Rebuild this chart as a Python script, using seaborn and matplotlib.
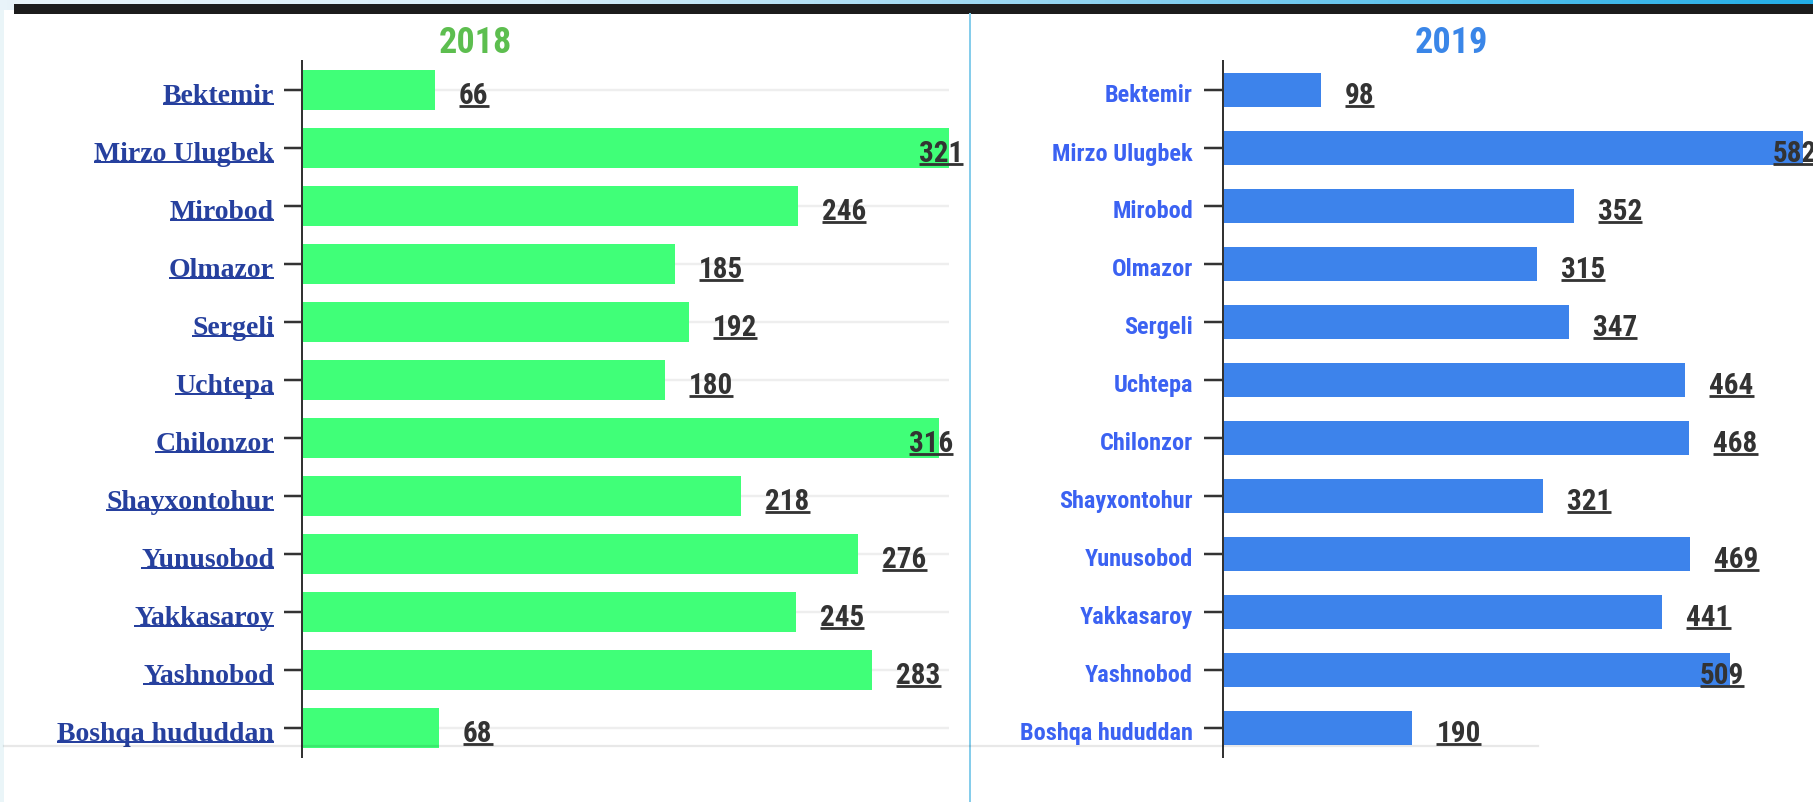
import sys # system functions

import numpy as np # arrays
import pandas as pd # data frames
import matplotlib # base library
matplotlib.use("Agg")
import matplotlib.pyplot as plt # pyplot
from matplotlib import font_manager as fm # font lookup
from matplotlib.lines import Line2D # underline strokes
from matplotlib.colors import LinearSegmentedColormap # top strip gradient
from matplotlib.transforms import ScaledTranslation # small label nudges
import seaborn as sns # seaborn

# Chart data
districts = ["Bektemir", "Mirzo Ulugbek", "Mirobod", "Olmazor", "Sergeli", "Uchtepa",
             "Chilonzor", "Shayxontohur", "Yunusobod", "Yakkasaroy", "Yashnobod",
             "Boshqa hududdan"]
values_2018 = [66, 321, 246, 185, 192, 180, 316, 218, 276, 245, 283, 68]
values_2019 = [98, 582, 352, 315, 347, 464, 468, 321, 469, 441, 509, 190]
titles = ["2018", "2019"]

W, H = 1813, 803 # figure size in pixels
PT = 0.72 # points per pixel at dpi 100


# Picks a condensed bold family if one is installed
def condensed_font():
    fonts = fm.fontManager.ttflist
    names = {f.name for f in fonts}
    if "Roboto Condensed" in names:
        return {"family": "Roboto Condensed"}
    for f in fonts:
        if f.name == "Roboto" and f.stretch in ("condensed", "semi-condensed", 75, 87):
            return {"family": "Roboto", "stretch": "condensed"}
    if "Liberation Sans Narrow" in names:
        return {"family": "Liberation Sans Narrow"}
    return {"family": "Roboto"}


# Puts an axes at pixel position (top-left origin)
def px_axes(fig, x0, y0, x1, y1, **kw):
    return fig.add_axes([x0 / W, 1 - y1 / H, (x1 - x0) / W, (y1 - y0) / H], **kw)


# Draws a line under a text object
def underline(fig, renderer, t, color, lw, drop):
    bb = t.get_window_extent(renderer)
    y = bb.y0 + drop
    inv = fig.transFigure.inverted()
    (x0, yy), (x1, _) = inv.transform([(bb.x0, y), (bb.x1, y)])
    fig.add_artist(Line2D([x0, x1], [yy, yy], color=color, lw=lw,
                          solid_capstyle="butt", zorder=20))


def draw_panel(fig, ax, values, bar_color, bar_width, grid):
    df = pd.DataFrame({"district": districts, "value": values})
    sns.barplot(data=df, x="value", y="district", orient="h", color=bar_color,
                saturation=1, width=bar_width, linewidth=0, ax=ax)
    ax.set_xlim(0, max(values))
    ax.set_ylim(len(districts) - 0.5, -0.5)
    ax.set_xlabel("")
    ax.set_ylabel("")
    ax.set_xticks([])
    for s in ["top", "right", "bottom"]:
        ax.spines[s].set_visible(False)
    ax.spines["left"].set_color("#333333")
    ax.spines["left"].set_linewidth(2 * PT)
    ax.spines["left"].set_zorder(5)
    if grid:
        ax.grid(axis="y", color="#EEEEEE", lw=2.4 * PT)
        ax.set_axisbelow(True)
    else:
        ax.grid(False)
    ax.set_facecolor("none")
    return ax


# Moves tick labels a few pixels down
def nudge_ticklabels(fig, ax, dy_px):
    shift = ScaledTranslation(0, -dy_px / 100, fig.dpi_scale_trans)
    for tick in ax.yaxis.get_major_ticks():
        tick.label1.set_transform(tick.label1.get_transform() + shift)


def __main__():
    cond = condensed_font()

    fig = plt.figure(figsize=(W / 100, H / 100), dpi=100)
    fig.patch.set_facecolor("white")

    # page decoration: gradient strip, dark bar, margin
    strip = px_axes(fig, 0, 0, W, 11)
    cmap = LinearSegmentedColormap.from_list(
        "strip", [(0, "#E8F3F9"), (0.3, "#D6EDF8"), (0.6, "#90D3F0"), (1, "#22ADE6")])
    strip.imshow(np.linspace(0, 1, 256)[None, :], aspect="auto", cmap=cmap)
    strip.axis("off")
    margin = px_axes(fig, 0, 11, 4, H)
    margin.set_facecolor("#EAF5F8")
    margin.set_xticks([])
    margin.set_yticks([])
    for s in margin.spines.values():
        s.set_visible(False)
    fig.add_artist(plt.Rectangle((14 / W, 1 - 15 / H), 1, 10 / H, transform=fig.transFigure,
                                 color="#1C1C1C", lw=0, zorder=3))
    fig.add_artist(Line2D([970 / W, 970 / W], [0, 1 - 15 / H], transform=fig.transFigure,
                          color="#86CDEB", lw=2 * PT, zorder=3))

    # left panel (2018)
    ax1 = px_axes(fig, 302, 62, 949, 758)
    draw_panel(fig, ax1, values_2018, "#40FF78", 0.7, True)
    ax1.tick_params(axis="y", length=18 * PT, width=2.5 * PT, color="#333333", pad=10 * PT)
    for lbl in ax1.get_yticklabels():
        lbl.set_fontfamily("Liberation Serif")
        lbl.set_fontweight("bold")
        lbl.set_fontsize(20)
        lbl.set_color("#26409E")

    # right panel (2019)
    ax2 = px_axes(fig, 1223, 62, 1803, 758)
    draw_panel(fig, ax2, values_2019, "#3D83EB", 0.57, False)
    ax2.tick_params(axis="y", length=19 * PT, width=2.5 * PT, color="#333333", pad=11 * PT)
    for lbl in ax2.get_yticklabels():
        lbl.set_fontproperties(fm.FontProperties(weight="bold", size=17.5, **cond))
        lbl.set_color("#3B62F2")

    # titles
    fig.text(475 / W, 1 - 53 / H, titles[0], ha="center", va="baseline", color="#5DBE4F",
             fontproperties=fm.FontProperties(weight="bold", size=26, **cond))
    fig.text(1451 / W, 1 - 53 / H, titles[1], ha="center", va="baseline", color="#3A86E8",
             fontproperties=fm.FontProperties(weight="bold", size=26, **cond))

    # value labels
    value_texts = []
    for ax, vals in [(ax1, values_2018), (ax2, values_2019)]:
        for i, v in enumerate(vals):
            t = ax.annotate(str(v), xy=(v, i), xytext=(24 * PT, -5 * PT),
                            textcoords="offset points", ha="left", va="center",
                            color="#333333", annotation_clip=False, zorder=10,
                            fontproperties=fm.FontProperties(weight="bold", size=21, **cond))
            value_texts.append((ax, t))

    fig.canvas.draw()
    renderer = fig.canvas.get_renderer()
    nudge_ticklabels(fig, ax1, 2.5)
    nudge_ticklabels(fig, ax2, 2.5)
    # labels that do not fit beside the bar are pulled back over its end
    for ax, t in value_texts:
        right = ax.get_window_extent(renderer).x1
        if t.get_window_extent(renderer).x1 > right - 6:
            t.set_horizontalalignment("right")
            t.xyann = (14 * PT, -5 * PT)
    fig.canvas.draw()

    for ax, t in value_texts:
        underline(fig, renderer, t, "#333333", 2.8 * PT, 3.5)
    for lbl in ax1.get_yticklabels():
        underline(fig, renderer, lbl, "#26409E", 2 * PT, 4)

    # page rule at the bottom of the charts
    fig.add_artist(Line2D([4 / W, 1538 / W], [1 - 747 / H, 1 - 747 / H], transform=fig.transFigure,
                          color="black", alpha=0.09, lw=2.3 * PT, zorder=15))

    fig.savefig("out.png", dpi=100)


if __name__ == "__main__":
    sys.exit(__main__())
